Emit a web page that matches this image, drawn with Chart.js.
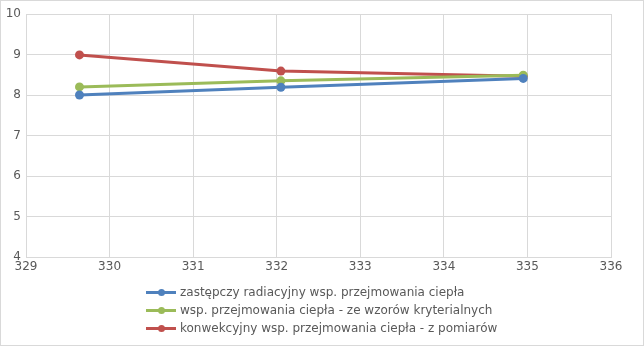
<!DOCTYPE html>
<html>
<head>
<meta charset="utf-8">
<script src="https://cdn.jsdelivr.net/npm/chart.js@4"></script>
<style>
  html, body { margin: 0; padding: 0; background: #fff; }
  #wrap { position: relative; width: 644px; height: 346px; font-family: "DejaVu Sans", sans-serif; }
  #frame { position: absolute; left: 0; top: 0; width: 644px; height: 346px; box-sizing: border-box; border: 1px solid #d9d9d9; pointer-events: none; }
  #legend { position: absolute; left: 146px; top: 283px; font-size: 12px; color: #595959; }
  .row { height: 18px; line-height: 18px; white-space: nowrap; position: relative; padding-left: 34px; }
  .swatch { position: absolute; left: 0; top: 8px; width: 30px; height: 3px; }
  .dot { position: absolute; left: 12px; top: -2px; width: 7px; height: 7px; border-radius: 50%; }
</style>
</head>
<body>
<div id="wrap">
  <canvas id="chart" width="644" height="346"></canvas>
  <div id="legend"></div>
  <div id="frame"></div>
</div>
<script>
// temperatures (x) at which the three coefficients were read
const xValues = [329.64, 332.05, 334.95];

const seriesNames = [
  'zastępczy radiacyjny wsp. przejmowania ciepła',
  'wsp. przejmowania ciepła - ze wzorów kryterialnych',
  'konwekcyjny wsp. przejmowania ciepła - z pomiarów'
];
const radiacyjny = [8.00, 8.19, 8.41];
const kryterialny = [8.20, 8.35, 8.49];
const konwekcyjny = [8.99, 8.59, 8.46];
const seriesColors = ['#4f81bd', '#9bbb59', '#c0504d'];

const xTicks = [329, 330, 331, 332, 333, 334, 335, 336];
const yTicks = [4, 5, 6, 7, 8, 9, 10];

const gridColor = '#d9d9d9';
const textColor = '#595959';

function toPoints(vals) {
  return vals.map((v, i) => ({ x: xValues[i], y: v }));
}

const allValues = [radiacyjny, kryterialny, konwekcyjny];

const datasets = allValues.map((vals, i) => ({
  label: seriesNames[i],
  data: toPoints(vals),
  showLine: true,
  borderColor: seriesColors[i],
  backgroundColor: seriesColors[i],
  borderWidth: 3,
  pointRadius: 4.5,
  pointHoverRadius: 4.5,
  pointBorderWidth: 0
}));

new Chart(document.getElementById('chart'), {
  type: 'scatter',
  data: { datasets },
  options: {
    responsive: false,
    animation: false,
    layout: { padding: { left: 0, right: 33, top: 14, bottom: 67 } },
    plugins: { legend: { display: false }, tooltip: { enabled: false } },
    scales: {
      x: {
        type: 'linear',
        min: xTicks[0],
        max: xTicks[xTicks.length - 1],
        afterBuildTicks: (axis) => { axis.ticks = xTicks.map(v => ({ value: v })); },
        afterFit: (axis) => { axis.height = 22; },
        grid: { color: gridColor, drawTicks: false },
        border: { color: gridColor },
        ticks: {
          padding: 3,
          color: textColor,
          font: { family: 'DejaVu Sans', size: 12 },
          maxRotation: 0
        }
      },
      y: {
        min: yTicks[0],
        max: yTicks[yTicks.length - 1],
        afterBuildTicks: (axis) => { axis.ticks = yTicks.map(v => ({ value: v })); },
        afterFit: (axis) => { axis.width = 26; },
        grid: { color: gridColor, drawTicks: false },
        border: { color: gridColor },
        ticks: {
          padding: 5,
          color: textColor,
          font: { family: 'DejaVu Sans', size: 12 }
        }
      }
    }
  }
});

// legend drawn as html so the rows stay left aligned
const legendEl = document.getElementById('legend');
seriesNames.forEach((name, i) => {
  const row = document.createElement('div');
  row.className = 'row';
  row.innerHTML = '<span class="swatch" style="background:' + seriesColors[i] + '">' +
    '<span class="dot" style="background:' + seriesColors[i] + '"></span></span>' + name;
  legendEl.appendChild(row);
});
</script>
</body>
</html>
